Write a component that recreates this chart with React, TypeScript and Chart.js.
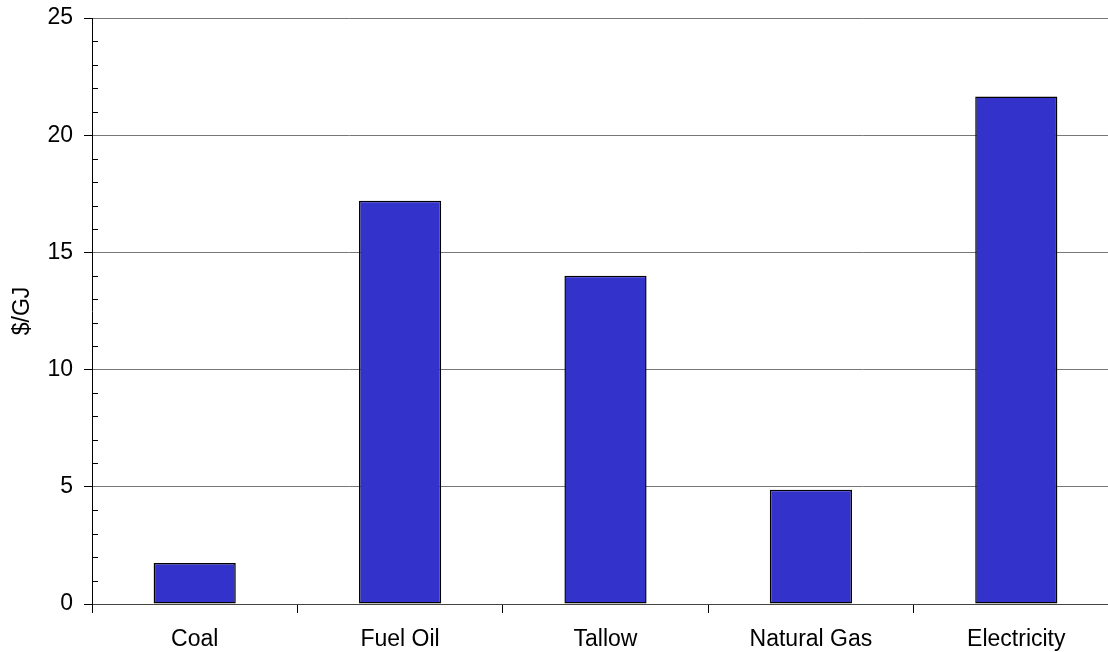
import React, { useEffect, useRef } from "react";
import { Chart, registerables } from "chart.js";

Chart.register(...registerables);

const categories = ["Coal", "Fuel Oil", "Tallow", "Natural Gas", "Electricity"];
const costPerGJ = [1.75, 17.2, 14.0, 4.87, 21.65];
const yTickValues = [0, 5, 10, 15, 20, 25];
const yMinorTickValues = [1, 2, 3, 4, 6, 7, 8, 9, 11, 12, 13, 14, 16, 17, 18, 19, 21, 22, 23, 24];

const FONT = "'Liberation Sans', Arial, sans-serif";

const minorTicksPlugin = {
  id: "minorTicks",
  afterDatasetsDraw(chart: any) {
    const y = chart.scales.y;
    const x0 = chart.chartArea.left;
    const ctx = chart.ctx;
    ctx.save();
    ctx.strokeStyle = "#000";
    ctx.lineWidth = 1;
    yMinorTickValues.forEach((v) => {
      const py = Math.round(y.getPixelForValue(v)) + 0.5;
      ctx.beginPath();
      ctx.moveTo(x0, py);
      ctx.lineTo(x0 + 6, py);
      ctx.stroke();
    });
    ctx.restore();
  },
};

export default function App() {
  const ref = useRef<HTMLCanvasElement>(null);
  useEffect(() => {
    if (!ref.current) return;
    const chart = new Chart(ref.current, {
      type: "bar",
      data: {
        labels: categories,
        datasets: [
          {
            label: "$/GJ",
            data: costPerGJ,
            backgroundColor: "#3333CC",
            borderColor: "#000000",
            borderWidth: 1.5,
            borderSkipped: false,
            categoryPercentage: 0.4,
            barPercentage: 1,
          },
        ],
      },
      options: {
        animation: false,
        responsive: false,
        maintainAspectRatio: false,
        layout: { padding: { top: 18, right: 0, bottom: 0, left: 0 } },
        plugins: {
          legend: { display: false },
          tooltip: { enabled: false },
        },
        scales: {
          x: {
            offset: true,
            grid: {
              offset: true,
              drawOnChartArea: false,
              drawTicks: true,
              tickLength: 9,
              color: "#000",
            },
            border: { color: "#444", width: 1 },
            ticks: {
              color: "#000",
              font: { family: FONT, size: 23 },
              padding: 13,
              maxRotation: 0,
            },
            afterFit(scale: any) {
              scale.height = 48;
              scale.paddingLeft = 0;
              scale.paddingRight = 0;
            },
          },
          y: {
            min: 0,
            max: 25,
            afterBuildTicks(scale: any) {
              scale.ticks = yTickValues.map((v) => ({ value: v }));
            },
            grid: {
              color: "#777",
              tickColor: "#000",
              tickLength: 8,
              drawTicks: true,
            },
            border: { color: "#000", width: 1 },
            ticks: {
              color: "#000",
              font: { family: FONT, size: 23 },
              padding: 11,
            },
            title: {
              display: true,
              text: "$/GJ",
              color: "#000",
              font: { family: FONT, size: 23 },
              padding: { top: 9, bottom: 0 },
            },
            afterFit(scale: any) {
              scale.width = 92;
              scale.paddingTop = 0;
              scale.paddingBottom = 0;
            },
          },
        },
      },
      plugins: [minorTicksPlugin],
    });
    return () => chart.destroy();
  }, []);
  return (
    <div style={{ position: "absolute", left: 0, top: 0, width: 1108, height: 652, overflow: "hidden", background: "#fff" }}>
      <canvas ref={ref} width={1119} height={652} style={{ display: "block" }} />
    </div>
  );
}
